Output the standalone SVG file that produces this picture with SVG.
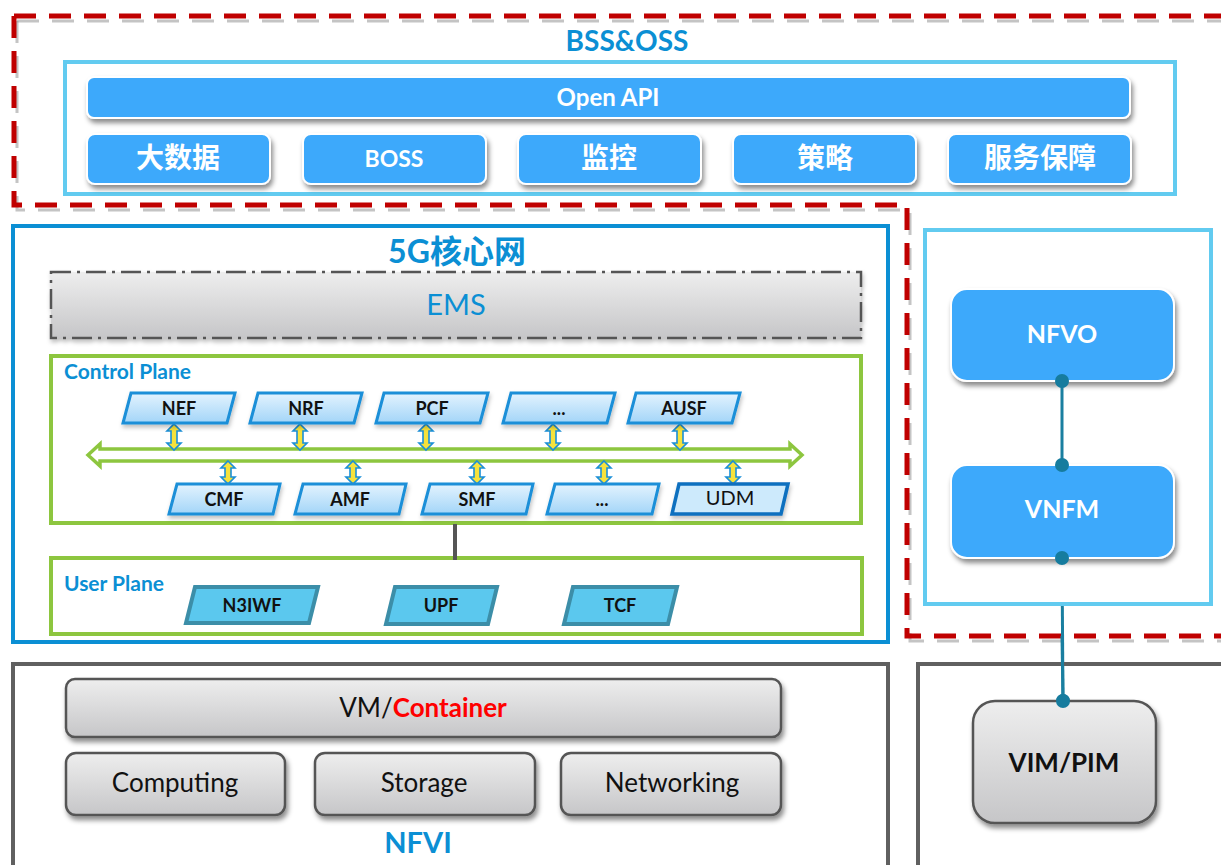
<svg xmlns="http://www.w3.org/2000/svg" width="1221" height="865" viewBox="0 0 1221 865">
  <defs>
    <style>
      text { font-family: Lato, "Noto Sans", "Noto Sans CJK SC", sans-serif; text-anchor: middle; }
      .cjk { font-family: Lato, "Noto Sans CJK SC", sans-serif; }
      .title { fill: #0b8fd4; font-weight: bold; }
      .blueBtn { fill: #3da9fb; stroke: #ffffff; stroke-width: 2; filter: url(#shadow); }
      .btnText { fill: #ffffff; font-weight: bold; }
      .greyBox { fill: url(#greyGrad); stroke: #555555; stroke-width: 2.5; filter: url(#shadow); }
      .greyText { fill: #111111; font-size: 26px; }
      .nf { fill: url(#nfGrad); stroke: #1a8fd8; stroke-width: 3; filter: url(#softShadow); }
      .nfText { fill: #111111; font-weight: bold; font-size: 18px; }
      .up { fill: #5bc8ee; stroke: #3c8ea8; stroke-width: 4; }
      .plane { fill: #ffffff; stroke: #8dc63f; stroke-width: 4; }
      .planeLabel { fill: #0b8fd4; font-weight: bold; font-size: 21px; text-anchor: start; }
      .frameGrey { fill: none; stroke: #606060; stroke-width: 4; }
      .frameCyan { fill: #ffffff; stroke: #62cbf0; stroke-width: 4; }
      .redDash { fill: none; stroke: #c00000; stroke-width: 5; stroke-dasharray: 22 13; }
      .redDashShadow { fill: none; stroke: #8a8a8a; stroke-width: 3; stroke-dasharray: 22 13; opacity: 0.5; }
      .dbl { fill: #f6e23c; stroke: #1a8fd8; stroke-width: 1.6; }
      .link { stroke: #1a7fa0; stroke-width: 3; fill: none; }
      .dot { fill: #167c9e; }
    </style>
    <linearGradient id="greyGrad" x1="0" y1="0" x2="0" y2="1">
      <stop offset="0" stop-color="#eeeeee"/>
      <stop offset="1" stop-color="#c6c6c8"/>
    </linearGradient>
    <linearGradient id="nfGrad" x1="0" y1="0" x2="0" y2="1">
      <stop offset="0" stop-color="#e3f3fe"/>
      <stop offset="1" stop-color="#a3d5f8"/>
    </linearGradient>
    <filter id="shadow" x="-10%" y="-20%" width="120%" height="150%">
      <feDropShadow dx="2" dy="4" stdDeviation="2.5" flood-color="#000000" flood-opacity="0.45"/>
    </filter>
    <filter id="softShadow" x="-10%" y="-20%" width="120%" height="150%">
      <feDropShadow dx="1" dy="3" stdDeviation="2" flood-color="#000000" flood-opacity="0.25"/>
    </filter>
    <!-- vertical two-headed arrows (NF to bus) -->
    <path id="dblTop" d="M0,0 L7,7 L3,7 L3,19 L7,19 L0,26 L-7,19 L-3,19 L-3,7 L-7,7 Z"/>
    <path id="dblBot" d="M0,0 L7,7 L3,7 L3,16 L7,16 L0,23 L-7,16 L-3,16 L-3,7 L-7,7 Z"/>
  </defs>

  <rect width="1221" height="865" fill="#ffffff"/>

  <!-- management domain outline (red dashed) -->
  <g id="mgmt-outline">
    <g transform="translate(3,5)">
      <path class="redDashShadow" d="M14,16 L1221,16"/>
      <path class="redDashShadow" d="M14,16 L14,205 L907,205 L907,636 L1221,636"/>
    </g>
    <path class="redDash" d="M14,16 L1221,16"/>
    <path class="redDash" d="M14,16 L14,205 L907,205 L907,636 L1221,636"/>
  </g>

  <!-- BSS & OSS -->
  <g id="bss-oss">
    <text class="title" x="627" y="51" font-size="28">BSS&amp;OSS</text>
    <rect class="frameCyan" x="65" y="62" width="1110" height="132"/>
  </g>
  <g id="open-api">
    <rect class="blueBtn" x="87" y="77" width="1043" height="41" rx="7"/>
    <text class="btnText" x="608" y="106" font-size="24">Open API</text>
  </g>
  <g id="big-data">
    <rect class="blueBtn" x="87" y="134" width="183" height="50" rx="8"/>
    <text class="btnText cjk" x="178" y="168" font-size="28">大数据</text>
  </g>
  <g id="boss">
    <rect class="blueBtn" x="303" y="134" width="183" height="50" rx="8"/>
    <text class="btnText" x="394" y="167" font-size="23">BOSS</text>
  </g>
  <g id="monitoring">
    <rect class="blueBtn" x="518" y="134" width="183" height="50" rx="8"/>
    <text class="btnText cjk" x="609" y="168" font-size="28">监控</text>
  </g>
  <g id="policy">
    <rect class="blueBtn" x="733" y="134" width="183" height="50" rx="8"/>
    <text class="btnText cjk" x="825" y="168" font-size="28">策略</text>
  </g>
  <g id="service-assurance">
    <rect class="blueBtn" x="948" y="134" width="183" height="50" rx="8"/>
    <text class="btnText cjk" x="1040" y="168" font-size="28">服务保障</text>
  </g>

  <!-- 5G core -->
  <g id="core-5g">
    <rect x="13" y="226" width="875" height="416" fill="none" stroke="#0b8fd4" stroke-width="4"/>
    <text class="title cjk" x="457" y="263" font-size="32">5G核心网</text>
  </g>
  <g id="ems">
    <rect x="51" y="272" width="810" height="66" fill="url(#greyGrad)" stroke="#555555" stroke-width="2.5" stroke-dasharray="20 6 3 6" filter="url(#softShadow)"/>
    <text x="456" y="315" font-size="29" fill="#0b8fd4">EMS</text>
  </g>
  <g id="control-plane">
    <rect class="plane" x="51" y="356" width="810" height="167"/>
    <text class="planeLabel" x="64" y="379">Control Plane</text>
  </g>
  <g id="user-plane">
    <rect class="plane" x="51" y="558" width="811" height="76"/>
    <text class="planeLabel" x="64" y="591">User Plane</text>
  </g>

  <!-- connectors -->
  <g id="connectors">
    <!-- service bus -->
    <path d="M88,455 L100,444 L100,449 L790,449 L790,444 L802,455 L790,466 L790,461 L100,461 L100,466 Z" fill="#ffffff" stroke="#8dc63f" stroke-width="3.5" stroke-linejoin="miter"/>
    <!-- NF to bus -->
    <use href="#dblTop" class="dbl" x="174" y="424"/>
    <use href="#dblTop" class="dbl" x="300" y="424"/>
    <use href="#dblTop" class="dbl" x="426" y="424"/>
    <use href="#dblTop" class="dbl" x="553" y="424"/>
    <use href="#dblTop" class="dbl" x="680" y="424"/>
    <use href="#dblBot" class="dbl" x="228" y="461"/>
    <use href="#dblBot" class="dbl" x="353" y="461"/>
    <use href="#dblBot" class="dbl" x="477" y="461"/>
    <use href="#dblBot" class="dbl" x="604" y="461"/>
    <use href="#dblBot" class="dbl" x="733" y="461"/>
    <!-- SMF to user plane -->
    <line x1="455" y1="524" x2="455" y2="560" stroke="#555555" stroke-width="4"/>
    <!-- NFVO - VNFM - VIM -->
    <line class="link" x1="1062" y1="381" x2="1062" y2="465"/>
    <line class="link" x1="1062" y1="558" x2="1063" y2="701"/>
    <circle class="dot" cx="1062" cy="381" r="7"/>
    <circle class="dot" cx="1062" cy="465" r="7"/>
    <circle class="dot" cx="1062" cy="558" r="7"/>
    <circle class="dot" cx="1063" cy="701" r="7"/>
  </g>

  <!-- control plane functions -->
  <g id="nef">
    <polygon class="nf" points="131,393 235,393 227,423 123,423"/>
    <text class="nfText" x="179" y="415">NEF</text>
  </g>
  <g id="nrf">
    <polygon class="nf" points="258,393 362,393 354,423 250,423"/>
    <text class="nfText" x="306" y="415">NRF</text>
  </g>
  <g id="pcf">
    <polygon class="nf" points="384,393 488,393 480,423 376,423"/>
    <text class="nfText" x="432" y="415">PCF</text>
  </g>
  <g id="cp-more-top">
    <polygon class="nf" points="511,393 615,393 607,423 503,423"/>
    <text class="nfText" x="559" y="415">...</text>
  </g>
  <g id="ausf">
    <polygon class="nf" points="636,393 740,393 732,423 628,423"/>
    <text class="nfText" x="684" y="415">AUSF</text>
  </g>
  <g id="cmf">
    <polygon class="nf" points="177,484 280,484 273,514 169,514"/>
    <text class="nfText" x="224" y="506">CMF</text>
  </g>
  <g id="amf">
    <polygon class="nf" points="303,484 406,484 399,514 295,514"/>
    <text class="nfText" x="350" y="506">AMF</text>
  </g>
  <g id="smf">
    <polygon class="nf" points="430,484 533,484 526,514 422,514"/>
    <text class="nfText" x="477" y="506">SMF</text>
  </g>
  <g id="cp-more-bottom">
    <polygon class="nf" points="555,484 659,484 652,514 547,514"/>
    <text class="nfText" x="602" y="506">...</text>
  </g>
  <g id="udm">
    <polygon points="679,484 788,484 781,514 672,514" fill="#cdeafc" stroke="#0c6fbf" stroke-width="3.5" filter="url(#softShadow)"/>
    <text x="730" y="505" font-size="20" fill="#111111">UDM</text>
  </g>

  <!-- user plane functions -->
  <g id="n3iwf">
    <polygon class="up" points="195,587 318,587 309,623 186,623"/>
    <text class="nfText" x="252" y="612">N3IWF</text>
  </g>
  <g id="upf">
    <polygon class="up" points="395,587 497,587 488,624 386,624"/>
    <text class="nfText" x="441" y="612">UPF</text>
  </g>
  <g id="tcf">
    <polygon class="up" points="573,587 677,587 668,624 564,624"/>
    <text class="nfText" x="620" y="612">TCF</text>
  </g>

  <!-- MANO -->
  <g id="mano">
    <rect class="frameCyan" x="925" y="230" width="286" height="374" fill="none"/>
  </g>
  <g id="nfvo">
    <rect class="blueBtn" x="951" y="289" width="223" height="92" rx="16"/>
    <text class="btnText" x="1062" y="343" font-size="25">NFVO</text>
  </g>
  <g id="vnfm">
    <rect class="blueBtn" x="951" y="465" width="223" height="93" rx="16"/>
    <text class="btnText" x="1062" y="518" font-size="25">VNFM</text>
  </g>
  <!-- link dots kept above the MANO boxes -->
  <g id="mano-links">
    <line class="link" x1="1062" y1="381" x2="1062" y2="465"/>
    <circle class="dot" cx="1062" cy="381" r="7"/>
    <circle class="dot" cx="1062" cy="465" r="7"/>
    <circle class="dot" cx="1062" cy="558" r="7"/>
  </g>

  <!-- NFVI -->
  <g id="nfvi">
    <rect class="frameGrey" x="13" y="664" width="875" height="220"/>
    <text class="title" x="418" y="853" font-size="29">NFVI</text>
  </g>
  <g id="vm-container">
    <rect class="greyBox" x="66" y="679" width="715" height="58" rx="9"/>
    <text class="greyText" x="423" y="717"><tspan>VM/</tspan><tspan fill="#ff0000" font-weight="bold">Container</tspan></text>
  </g>
  <g id="computing">
    <rect class="greyBox" x="66" y="753" width="219" height="62" rx="10"/>
    <text class="greyText" x="175" y="792">Computing</text>
  </g>
  <g id="storage">
    <rect class="greyBox" x="315" y="753" width="220" height="62" rx="10"/>
    <text class="greyText" x="424" y="792">Storage</text>
  </g>
  <g id="networking">
    <rect class="greyBox" x="561" y="753" width="220" height="62" rx="10"/>
    <text class="greyText" x="672" y="792">Networking</text>
  </g>

  <!-- VIM -->
  <g id="vim-frame">
    <rect class="frameGrey" x="918" y="664" width="320" height="220"/>
  </g>
  <g id="vim-pim">
    <rect class="greyBox" x="973" y="701" width="183" height="122" rx="22"/>
    <text x="1064" y="772" font-size="26" font-weight="bold" fill="#111111">VIM/PIM</text>
  </g>
  <g id="vim-link">
    <line class="link" x1="1062" y1="636" x2="1063" y2="701"/>
    <circle class="dot" cx="1063" cy="701" r="7"/>
  </g>
</svg>
